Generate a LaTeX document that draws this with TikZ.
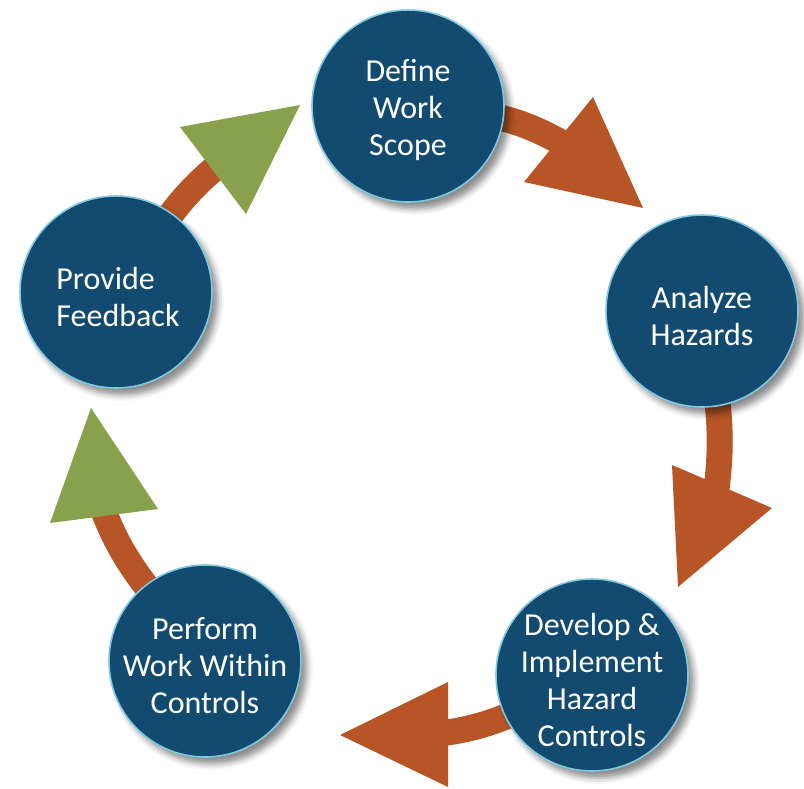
\documentclass[tikz,border=0pt]{standalone}
\usepackage{fontspec}
\setmainfont{Carlito}
\usetikzlibrary{shadows.blur,backgrounds}
\definecolor{stepblue}{HTML}{134B70}
\definecolor{rimblue}{HTML}{7EC8E0}
\definecolor{flowrust}{HTML}{B85526}
\definecolor{flowgreen}{HTML}{89A04C}
\begin{document}
\begin{tikzpicture}[x=1pt,y=-1pt,
  stage/.style={circle, minimum size=192pt, inner sep=0pt, fill=stepblue,
    draw=rimblue, line width=1.6pt,
    blur shadow={shadow xshift=6pt, shadow yshift=-7pt,
      shadow blur radius=6pt, shadow opacity=45}},
  caption/.style={text=white, align=center, inner sep=0pt, yshift=-5pt,
    font=\fontsize{32}{37}\selectfont},
  flow/.style={draw=flowrust, line width=26pt},
  rusthead/.style={fill=flowrust},
  greenhead/.style={fill=flowgreen}
]
\useasboundingbox (0,0) rectangle (804,788);

% process steps (the wording sits in a centred label, so long text never grows the circle)
\node[stage, label={[caption, yshift=1pt]center:Define\\Work\\Scope}] (scope) at (408,106) {};
\node[stage, label={[caption]center:Analyze\\Hazards}] (analyze) at (702,311) {};
\node[stage, label={[caption]center:Develop \&\\Implement\\Hazard\\Controls}] (develop) at (592,675) {};
\node[stage, label={[caption]center:Perform\\Work Within\\Controls}] (perform) at (205,661) {};
\node[stage, label={[caption, align=left, xshift=2pt]center:Provide\\Feedback}] (feedback) at (116,292) {};

% where each shaft meets its head
\coordinate (endA) at (562,143);
\coordinate (endB) at (716,492);
\coordinate (endC) at (444,733);
\coordinate (endD) at (104,512);
\coordinate (endE) at (215,168);

\begin{scope}[on background layer]
  % curved shafts, tucked under the steps
  \draw[flow] (scope.center)    to[out=-5,  in=150] (endA);
  \draw[flow] (analyze.center)  to[out=-80, in=82]  (endB);
  \draw[flow] (develop.center)  to[out=205, in=8]   (endC);
  \draw[flow] (perform.center)  to[out=125, in=-69] (endD);
  \draw[flow] (feedback.center) to[out=52,  in=220] (endE);
  % triangular heads
  \fill[rusthead]  (593,97)  -- (524,182) -- (643,208) -- cycle;
  \fill[rusthead]  (672,465) -- (772,508) -- (678,587) -- cycle;
  \fill[rusthead]  (448,682) -- (340,735) -- (448,787) -- cycle;
  \fill[greenhead] (91,408)  -- (50,523)  -- (158,509) -- cycle;
  \fill[greenhead] (180,127) -- (300,105) -- (246,214) -- cycle;
\end{scope}
\end{tikzpicture}
\end{document}
